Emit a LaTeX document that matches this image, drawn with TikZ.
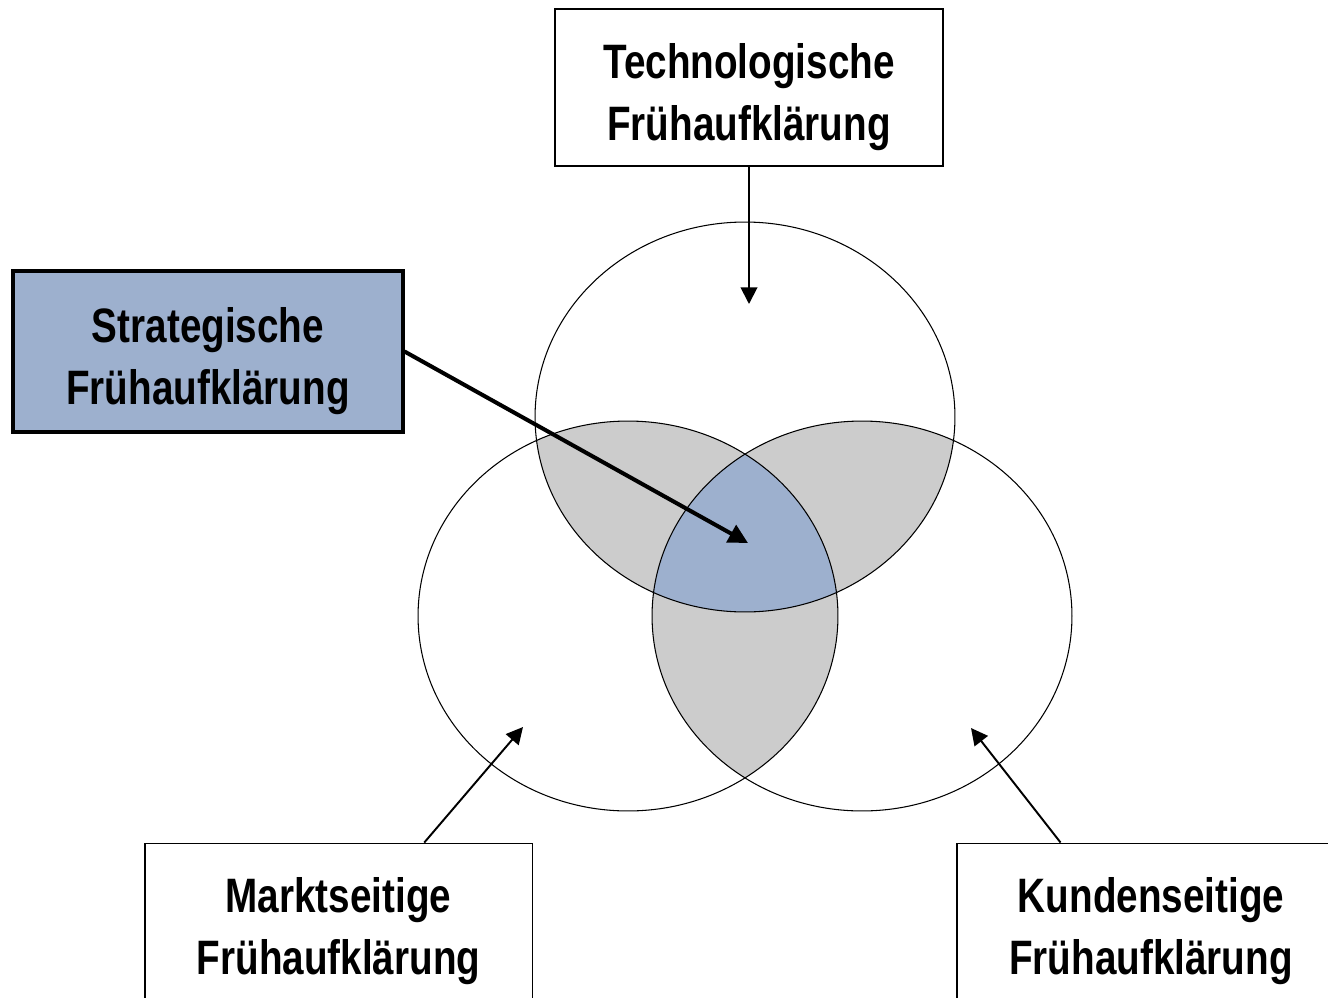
\documentclass[tikz,border=0pt]{standalone}
\usepackage{fontspec}
\newfontfamily\boxfont{Liberation Sans}[FakeStretch=0.8]
\usetikzlibrary{arrows.meta,calc}
\definecolor{stratblue}{RGB}{157,176,206}
\definecolor{overlapgrey}{RGB}{204,204,204}
\begin{document}
\begin{tikzpicture}[x=0.02cm,y=-0.02cm,
  boxstyle/.style={draw=black,line width=1.1pt,fill=white,minimum width=7.76cm,minimum height=3.14cm,inner sep=0pt},
  stratstyle/.style={boxstyle,line width=1.8pt,fill=stratblue,minimum width=7.8cm,minimum height=3.22cm},
  labelstyle/.style={align=center,inner sep=0pt,yshift=-5.3pt,
    font=\boxfont\bfseries\fontsize{27.5}{35.5}\selectfont},
  ringstyle/.style={draw=black,line width=0.6pt},
  thinarrow/.style={line width=1.1pt,-{Triangle[length=9.5pt,width=9.5pt]}},
  thickarrow/.style={line width=2.3pt,-{Triangle[length=11pt,width=11pt]}}]
\useasboundingbox (0,0) rectangle (1328,997);
% overlaps
\begin{scope}
  \clip (745,417) ellipse [x radius=4.2cm,y radius=3.9cm];
  \fill[overlapgrey] (628,616) ellipse [x radius=4.2cm,y radius=3.9cm];
  \fill[overlapgrey] (862,616) ellipse [x radius=4.2cm,y radius=3.9cm];
\end{scope}
\begin{scope}
  \clip (628,616) ellipse [x radius=4.2cm,y radius=3.9cm];
  \fill[overlapgrey] (862,616) ellipse [x radius=4.2cm,y radius=3.9cm];
\end{scope}
\begin{scope}
  \clip (745,417) ellipse [x radius=4.2cm,y radius=3.9cm];
  \clip (628,616) ellipse [x radius=4.2cm,y radius=3.9cm];
  \fill[stratblue] (862,616) ellipse [x radius=4.2cm,y radius=3.9cm];
\end{scope}
\draw[ringstyle] (745,417) ellipse [x radius=4.2cm,y radius=3.9cm];
\draw[ringstyle] (628,616) ellipse [x radius=4.2cm,y radius=3.9cm];
\draw[ringstyle] (862,616) ellipse [x radius=4.2cm,y radius=3.9cm];
% boxes
\node[boxstyle] (tech) at (749,87.5) {};
\node[stratstyle] (strat) at (208,351.5) {};
\node[boxstyle] (mkt) at (338.5,922) {};
\node[boxstyle] (kun) at (1151,922) {};
\node[labelstyle] (techlabel) at (tech.center) {Technologische\\Frühaufklärung};
\node[labelstyle] (stratlabel) at (strat.center) {Strategische\\Frühaufklärung};
\node[labelstyle] (mktlabel) at (mkt.center) {Marktseitige\\Frühaufklärung};
\node[labelstyle] (kunlabel) at (kun.center) {Kundenseitige\\Frühaufklärung};
% arrow targets
\coordinate (techhead) at (749,304);
\coordinate (strathead) at (748,543);
\coordinate (mkthead) at (523,727);
\coordinate (kunhead) at (971,728);
\draw[thinarrow] (tech.south) -- (techhead);
\draw[thickarrow] (strat.east) -- (strathead);
\draw[thinarrow] ($(mkt.north west)!0.72!(mkt.north east)$) -- (mkthead);
\draw[thinarrow] ($(kun.north west)!0.268!(kun.north east)$) -- (kunhead);
\end{tikzpicture}
\end{document}
